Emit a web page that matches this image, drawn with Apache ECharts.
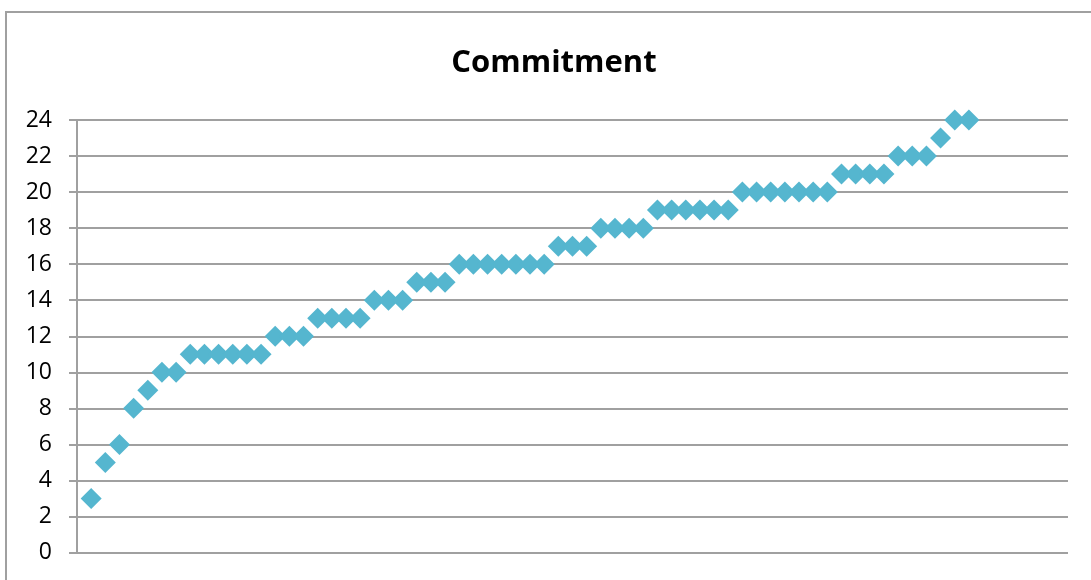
<!DOCTYPE html>
<html>
<head>
<meta charset="utf-8">
<script src="https://cdn.jsdelivr.net/npm/echarts@6/dist/echarts.min.js"></script>
<style>html,body{margin:0;padding:0;background:#fff}#c{width:1091px;height:580px}</style>
</head>
<body>
<div id="c"></div>
<script>
const chartTitle = "Commitment";
const commitment = [3,5,6,8,9,10,10,11,11,11,11,11,11,12,12,12,13,13,13,13,14,14,14,15,15,15,16,16,16,16,16,16,16,17,17,17,18,18,18,18,19,19,19,19,19,19,20,20,20,20,20,20,20,21,21,21,21,22,22,22,23,24,24];
const yTicks = [0,2,4,6,8,10,12,14,16,18,20,22,24];

const points = commitment.map((v, i) => [i + 1, v]);
const chart = echarts.init(document.getElementById('c'));
chart.setOption({
  animation: false,
  grid: {left: 77, right: 23, top: 120, bottom: 27.5},
  graphic: [
    {type: 'rect', shape: {x: 6, y: 12, width: 1200, height: 700}, style: {fill: 'none', stroke: '#a0a0a0', lineWidth: 2}, silent: true},
    {type: 'text', x: 554, y: 63, style: {text: chartTitle, font: 'bold 31px "Open Sans", sans-serif', fill: '#000', textAlign: 'center', textVerticalAlign: 'middle'}}
  ],
  xAxis: {
    type: 'value', min: 0, max: 70,
    axisLine: {show: false}, axisTick: {show: false}, axisLabel: {show: false}, splitLine: {show: false}
  },
  yAxis: {
    type: 'value', min: yTicks[0], max: yTicks[yTicks.length - 1], interval: 2,
    axisLine: {show: true, lineStyle: {color: '#a0a0a0', width: 2}},
    axisTick: {show: true, length: 8, lineStyle: {color: '#a0a0a0', width: 2}},
    axisLabel: {margin: 25, fontSize: 23, color: '#000', fontFamily: '"Open Sans", sans-serif'},
    splitLine: {show: true, lineStyle: {color: '#a0a0a0', width: 2}}
  },
  series: [{
    type: 'scatter', data: points, symbol: 'diamond', symbolSize: 21,
    itemStyle: {color: '#55b6cf', opacity: 1}
  }]
});
</script>
</body>
</html>
